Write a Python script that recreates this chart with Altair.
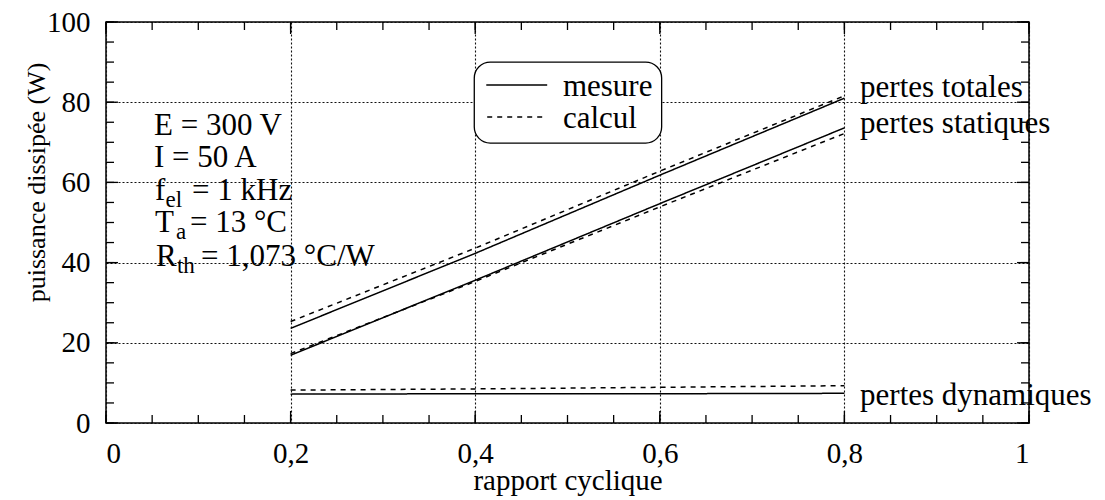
import altair as alt
import pandas as pd

# ---- data ----
x_pts = [0.2, 0.4, 0.6, 0.8]
tot_mesure = [23.6, 42.3, 61.8, 81.0]
tot_calcul = [25.3, 43.6, 62.8, 81.6]
stat_mesure = [16.9, 35.6, 54.7, 73.6]
stat_calcul = [17.3, 35.3, 53.9, 72.2]
dyn_mesure = [7.2, 7.3, 7.3, 7.4]
dyn_calcul = [8.2, 8.5, 8.9, 9.3]

x_ticks = [0, 0.2, 0.4, 0.6, 0.8, 1]
y_ticks = [0, 20, 40, 60, 80, 100]
x_minor = [i * 0.05 for i in range(21)]
y_minor = [i * 5 for i in range(21)]

FONT = "Liberation Serif"
W, H = 923, 401

rows = []
for name, typ, vals in [
    ("tot_m", "mesure", tot_mesure), ("tot_c", "calcul", tot_calcul),
    ("stat_m", "mesure", stat_mesure), ("stat_c", "calcul", stat_calcul),
    ("dyn_m", "mesure", dyn_mesure), ("dyn_c", "calcul", dyn_calcul),
]:
    for xv, yv in zip(x_pts, vals):
        rows.append({"x": xv, "y": yv, "serie": name, "type": typ})
df = pd.DataFrame(rows)

xscale = alt.Scale(domain=[0, 1], nice=False, zero=False)
yscale = alt.Scale(domain=[0, 100], nice=False, zero=False)

xaxis = alt.Axis(
    values=x_ticks, grid=True, gridDash=[2, 2], gridColor="#111", gridWidth=1.1,
    ticks=False, tickSize=0, domain=False, labelFont=FONT, labelFontSize=29,
    labelColor="black", labelPadding=39, labelBaseline="alphabetic",
    labelExpr="datum.value == 0 ? '0' : datum.value == 1 ? '1' : replace(format(datum.value, '.1f'), '.', ',')",
    title="rapport cyclique", titleFont=FONT, titleFontSize=29, titleFontWeight="normal",
    titleColor="black", titleY=66, titleBaseline="alphabetic",
)
yaxis = alt.Axis(
    values=y_ticks, grid=True, gridDash=[2, 2], gridColor="#111", gridWidth=1.1,
    ticks=False, tickSize=0, domain=False, labelFont=FONT, labelFontSize=29,
    labelColor="black", labelPadding=16, labelBaseline="middle",
    title="puissance dissipée (W)", titleFont=FONT, titleFontSize=26,
    titleFontWeight="normal", titleColor="black", titleX=-70, titleY=160,
    titleBaseline="middle", titleAlign="center", titleAngle=-90,
)

lines = alt.Chart(df).mark_line(color="black", strokeWidth=1.5, clip=False).encode(
    x=alt.X("x:Q", scale=xscale, axis=xaxis),
    y=alt.Y("y:Q", scale=yscale, axis=yaxis),
    detail="serie:N",
    strokeDash=alt.StrokeDash("type:N", scale=alt.Scale(domain=["mesure", "calcul"], range=[[1, 0], [5, 5]]), legend=None),
)

# inner ticks on all four sides
xm = pd.DataFrame({"v": x_minor})
ym = pd.DataFrame({"v": y_minor})
xM = pd.DataFrame({"v": x_ticks})
yM = pd.DataFrame({"v": y_ticks})
tk = dict(color="black", strokeWidth=1.3)
ticks = [
    alt.Chart(xm).mark_rule(**tk).encode(x="v:Q", y=alt.value(H), y2=alt.value(H - 8)),
    alt.Chart(xm).mark_rule(**tk).encode(x="v:Q", y=alt.value(0), y2=alt.value(8)),
    alt.Chart(ym).mark_rule(**tk).encode(y="v:Q", x=alt.value(0), x2=alt.value(8)),
    alt.Chart(ym).mark_rule(**tk).encode(y="v:Q", x=alt.value(W), x2=alt.value(W - 8)),
    alt.Chart(xM).mark_rule(**tk).encode(x="v:Q", y=alt.value(H), y2=alt.value(H - 12)),
    alt.Chart(xM).mark_rule(**tk).encode(x="v:Q", y=alt.value(0), y2=alt.value(12)),
    alt.Chart(yM).mark_rule(**tk).encode(y="v:Q", x=alt.value(0), x2=alt.value(12)),
    alt.Chart(yM).mark_rule(**tk).encode(y="v:Q", x=alt.value(W), x2=alt.value(W - 12)),
]

# legend box
leg_box = pd.DataFrame({"x": [0.399], "x2": [0.602], "y": [69.8], "y2": [90.0]})
box = alt.Chart(leg_box).mark_rect(fill="white", stroke="black", strokeWidth=1.3, cornerRadius=16).encode(
    x="x:Q", x2="x2:Q", y="y:Q", y2="y2:Q")
leg_lines = pd.DataFrame({"x": [0.412, 0.413], "x2": [0.478, 0.478], "y": [84.3, 76.3], "type": ["mesure", "calcul"]})
leg_l = alt.Chart(leg_lines).mark_rule(color="black", strokeWidth=1.5).encode(
    x="x:Q", x2="x2:Q", y="y:Q",
    strokeDash=alt.StrokeDash("type:N", scale=alt.Scale(domain=["mesure", "calcul"], range=[[1, 0], [5, 5]]), legend=None),
)
leg_text = pd.DataFrame({"x": [0.495, 0.495], "y": [81.5, 73.6], "t": ["mesure", "calcul"]})
leg_t = alt.Chart(leg_text).mark_text(font=FONT, fontSize=31, align="left", baseline="alphabetic", color="black").encode(
    x="x:Q", y="y:Q", text="t:N")

# parameter annotations (main text, subscripts)
ann_main = pd.DataFrame({
    "x": [0.052, 0.052, 0.0531, 0.0932, 0.0531, 0.091, 0.0542, 0.103],
    "y": [71.8, 63.8, 55.6, 55.6, 47.6, 47.6, 39.2, 39.2],
    "t": ["E = 300 V", "I = 50 A", "f", "= 1 kHz", "T", "= 13 °C", "R", "= 1,073 °C/W"],
})
ann_sub = pd.DataFrame({
    "x": [0.0645, 0.0758, 0.0769],
    "y": [53.8, 45.8, 37.4],
    "t": ["el", "a", "th"],
})
am = alt.Chart(ann_main).mark_text(font=FONT, fontSize=31, align="left", baseline="alphabetic", color="black").encode(
    x="x:Q", y="y:Q", text="t:N")
asub = alt.Chart(ann_sub).mark_text(font=FONT, fontSize=23, align="left", baseline="alphabetic", color="black").encode(
    x="x:Q", y="y:Q", text="t:N")

# curve labels at the right
lab = pd.DataFrame({
    "x": [0.817, 0.817, 0.817],
    "y": [81.3, 72.3, 4.5],
    "t": ["pertes totales", "pertes statiques", "pertes dynamiques"],
})
labs = alt.Chart(lab).mark_text(font=FONT, fontSize=31, align="left", baseline="alphabetic", color="black", clip=False).encode(
    x="x:Q", y="y:Q", text="t:N")

chart = alt.layer(lines, *ticks, box, leg_l, leg_t, am, asub, labs).properties(
    width=W, height=H,
    autosize=alt.AutoSizeParams(type="none"),
    padding={"left": 98, "top": 14, "right": 68, "bottom": 77},
    background="white",
).configure_view(stroke="black", strokeWidth=1.5)

chart.save("out.html", embed_options={"renderer": "svg", "actions": False})
